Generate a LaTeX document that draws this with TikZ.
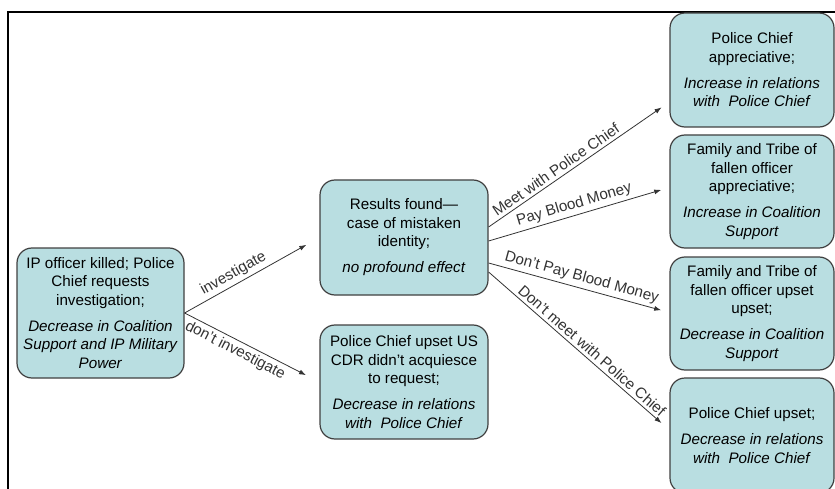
\documentclass[tikz,border=0pt]{standalone}
\usepackage{fontspec}
\setmainfont{Liberation Sans}
\usetikzlibrary{arrows.meta,positioning}
\definecolor{boxteal}{RGB}{185,222,225}
\definecolor{boxedge}{RGB}{64,64,64}
\tikzset{
  outcome/.style={draw=boxedge, fill=boxteal, line width=1.2pt, rounded corners=15pt,
    align=center, minimum width=164pt, minimum height=114pt, inner sep=2pt,
    font=\fontsize{15.2}{18.3}\selectfont},
  choice/.style={sloped, inner sep=3pt, font=\fontsize{15.2}{18.3}\selectfont},
}
\begin{document}
\begin{tikzpicture}[x=1pt,y=-1pt,>={Latex[length=7pt,width=5pt]}]
\clip (0,0) rectangle (835,489);
\draw[line width=2pt] (8,489) -- (8,12) -- (835,12);
% first decision
\node[outcome, minimum width=167pt, minimum height=130pt] (killed) at (100.5,313)
  {IP officer killed; Police\\Chief requests\\investigation;\\[8pt]
   \textit{Decrease in Coalition}\\\textit{Support and IP Military}\\\textit{Power}};
\node[outcome, minimum width=168pt, minimum height=115pt] (found) at (404,237.5)
  {Results found---\\case of mistaken\\identity;\\[8pt]\textit{no profound effect}};
\node[outcome, minimum width=168pt, minimum height=114pt] (refused) at (404,382)
  {Police Chief upset US\\CDR didn't acquiesce\\to request;\\[8pt]
   \textit{Decrease in relations}\\\textit{with\ \ Police Chief}};
% second decision
\node[outcome] (meet) at (752,70)
  {Police Chief\\appreciative;\\[8pt]\textit{Increase in relations}\\\textit{with\ \ Police Chief}};
\node[outcome, minimum height=113pt] (pay) at (752,191.5)
  {Family and Tribe of\\fallen officer\\appreciative;\\[8pt]\textit{Increase in Coalition}\\\textit{Support}};
\node[outcome, minimum height=113pt] (nopay) at (752,313.5)
  {Family and Tribe of\\fallen officer upset\\upset;\\[8pt]\textit{Decrease in Coalition}\\\textit{Support}};
\node[outcome, minimum height=115pt] (nomeet) at (752,435.5)
  {Police Chief upset;\\[8pt]\textit{Decrease in relations}\\\textit{with\ \ Police Chief}};
\draw[->, black!80, line width=0.8pt, shorten >=15pt] (killed.east) -- node[choice, above, pos=0.4] {investigate} (found.west);
\draw[->, black!80, line width=0.8pt, shorten >=15pt] (killed.east) -- node[choice, below, pos=0.41] {don't investigate} (refused.west);
\draw[->, black!80, line width=0.8pt, shorten >=9.5pt] ([yshift=10.5pt]found.east) -- node[choice, above, pos=0.4] {Meet with Police Chief} ([yshift=-32pt]meet.west);
\draw[->, black!80, line width=0.8pt, shorten >=8.5pt] ([yshift=-3.5pt]found.east) -- node[choice, above, pos=0.49] {Pay Blood Money} ([yshift=4pt]pay.west);
\draw[->, black!80, line width=0.8pt, shorten >=8.5pt] ([yshift=-25.5pt]found.east) -- node[choice, above, pos=0.5] {Don't Pay Blood Money} ([yshift=1pt]nopay.west);
\draw[->, black!80, line width=0.8pt, shorten >=10.5pt] ([yshift=-34.5pt]found.east) -- node[choice, above, pos=0.54] {Don't meet with Police Chief} ([yshift=5.5pt]nomeet.west);
\end{tikzpicture}
\end{document}
